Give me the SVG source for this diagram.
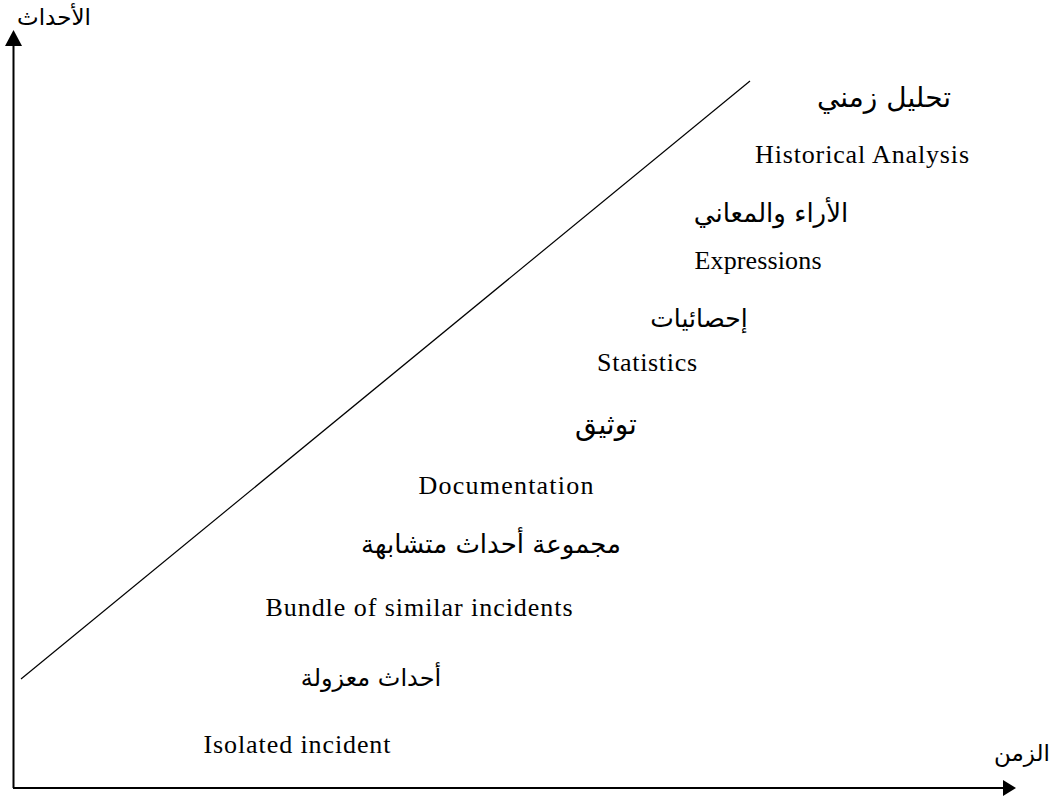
<svg xmlns="http://www.w3.org/2000/svg" width="1058" height="798" viewBox="0 0 1058 798">
<style>
.ar{font-family:"DejaVu Sans","Noto Sans",sans-serif;font-size:26px;fill:#000;text-anchor:middle;direction:rtl}
.ax{font-family:"DejaVu Sans","Noto Sans",sans-serif;font-size:23px;fill:#000;text-anchor:middle;direction:rtl}
.en{font-family:"Liberation Serif",serif;font-size:26px;fill:#000;text-anchor:middle}
.ln{stroke:#000;fill:none}
</style>
<rect width="1058" height="798" fill="#fff"/>
<g id="connectors">
<line class="ln" x1="13.5" y1="788" x2="13.5" y2="42" stroke-width="2"/>
<polygon points="13.5,30 5,46 22,46" fill="#000"/>
<line class="ln" x1="13" y1="788" x2="1004" y2="788" stroke-width="2"/>
<polygon points="1016,788 1003,780 1003,796" fill="#000"/>
<line class="ln" x1="21" y1="679" x2="750" y2="81" stroke-width="1.2"/>
</g>
<g id="axis-y"><text class="ax" x="54" y="25">الأحداث</text></g>
<g id="axis-x"><text class="ax" x="1022" y="761">الزمن</text></g>
<g id="n1"><text class="ar" x="884" y="107" style="font-size:28px">تحليل زمني</text>
<text class="en" x="862" y="163" textLength="214" lengthAdjust="spacing">Historical Analysis</text></g>
<g id="n2"><text class="ar" x="771" y="222">الأراء والمعاني</text>
<text class="en" x="758" y="269" textLength="127" lengthAdjust="spacing">Expressions</text></g>
<g id="n3"><text class="ar" x="699" y="327" style="font-size:25px">إحصائيات</text>
<text class="en" x="647" y="371" textLength="100" lengthAdjust="spacing">Statistics</text></g>
<g id="n4"><text class="ar" x="606" y="434" style="font-size:28px">توثيق</text>
<text class="en" x="506" y="494" textLength="175" lengthAdjust="spacing">Documentation</text></g>
<g id="n5"><text class="ar" x="491" y="553">مجموعة أحداث متشابهة</text>
<text class="en" x="419" y="616" textLength="307" lengthAdjust="spacing">Bundle of similar incidents</text></g>
<g id="n6"><text class="ar" x="371" y="686" style="font-size:24px">أحداث معزولة</text>
<text class="en" x="297" y="753" textLength="187" lengthAdjust="spacing">Isolated incident</text></g>
</svg>
